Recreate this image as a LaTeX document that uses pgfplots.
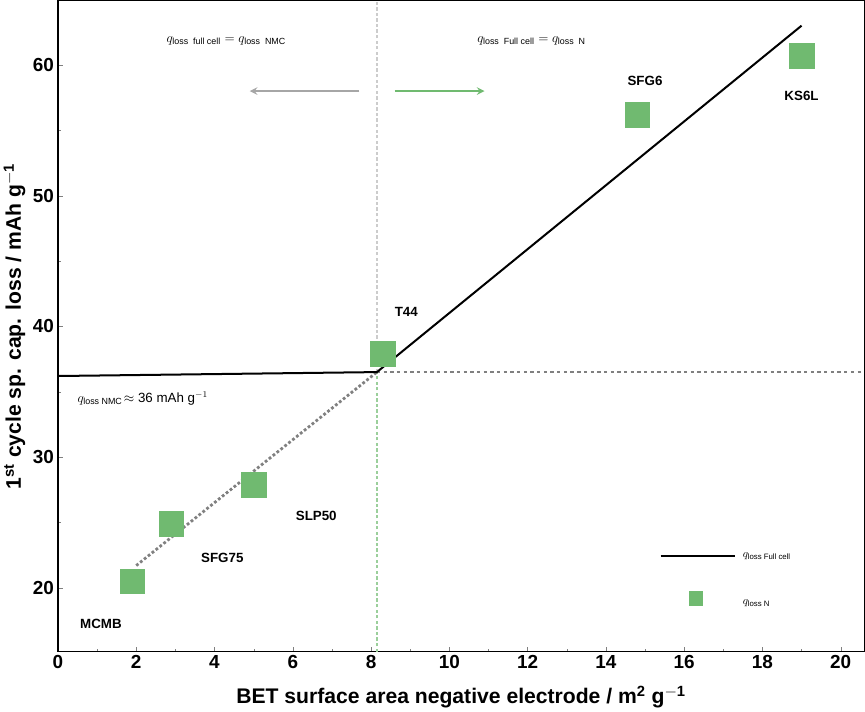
\documentclass[border=0pt]{standalone}
\usepackage{amsmath}
\usepackage{pgfplots}
\pgfplotsset{compat=1.18}
\usepackage{fontspec}
\setmainfont{Liberation Sans}
\definecolor{gsq}{RGB}{112,186,112}
\begin{document}
\begin{tikzpicture}
\begin{axis}[
  scale only axis, width=722bp, height=583bp,
  xmin=0, xmax=20.6, ymin=15.1, ymax=64.9,
  xtick={0,2,...,20}, ytick={20,30,40,50,60},
  tick label style={font=\bfseries\fontsize{17}{17}\selectfont},
  /pgf/number format/assume math mode=true,
  tick align=inside, tick pos=left, minor x tick num=1, minor y tick num=1,
  axis line style={line width=1pt},
  xlabel={\bfseries BET surface area negative electrode / m$^{\mathbf 2}$ g$^{\mathbf{-1}}$},
  ylabel={\bfseries 1$^{\text{st}}$ cycle sp. cap. loss / mAh g$^{\mathbf{-1}}$},
  label style={font=\bfseries\fontsize{19}{19}\selectfont},
  xlabel style={yshift=-8pt},
  clip=false,
]
\addplot[densely dashed, gray!40, line width=1.5pt] coordinates {(8.15,36.5) (8.15,64.9)};
\addplot[densely dashed, gsq!70, line width=1.5pt] coordinates {(8.15,15.1) (8.15,36.5)};
\addplot[dashed, gray, line width=1.5pt] coordinates {(8.15,36.5) (20.6,36.5)};
\addplot[dotted, gray, line width=2.5pt] coordinates {(2,21.7) (8.15,36.5)};
\addplot[black, line width=1.8pt] coordinates {(0,36.2) (8.15,36.5) (19,63)};
\addplot[only marks, mark=square*, mark size=11pt, gsq, mark options={draw=gsq}] coordinates {
 (1.9,20.5) (2.9,24.9) (5,27.9) (8.3,37.9) (14.8,56.2) (19,60.7)};
\node[font=\bfseries\large] at (axis cs:1.1,17.2) {MCMB};
\node[font=\bfseries\large] at (axis cs:4.2,22.3) {SFG75};
\node[font=\bfseries\large] at (axis cs:6.6,25.5) {SLP50};
\node[font=\bfseries\large] at (axis cs:8.9,41.1) {T44};
\node[font=\bfseries\large] at (axis cs:15,58.8) {SFG6};
\node[font=\bfseries\large] at (axis cs:19,57.6) {KS6L};
\node[font=\large, anchor=west] at (axis cs:0.4,34.5) {$q_{\text{loss NMC}}\!\approx$ 36 mAh g$^{-1}$};
\node[font=\large] at (axis cs:4.3,61.8) {$q_{\text{loss\ \ full cell}} = q_{\text{loss\ \ NMC}}$};
\node[font=\large] at (axis cs:12.1,61.8) {$q_{\text{loss\ \ Full cell}} = q_{\text{loss\ \ N}}$};
\draw[-stealth, gray!70, line width=2pt] (axis cs:7.7,58) -- (axis cs:4.9,58);
\draw[-stealth, gsq, line width=2pt] (axis cs:8.6,58) -- (axis cs:10.9,58);
\draw[black, line width=1.8pt] (axis cs:15.4,22.4) -- (axis cs:17.3,22.4);
\node[anchor=west] at (axis cs:17.4,22.4) {$q_{\text{loss Full cell}}$};
\addplot[only marks, mark=square*, mark size=6pt, gsq] coordinates {(16.3,19.2)};
\node[anchor=west] at (axis cs:17.4,18.8) {$q_{\text{loss N}}$};
\end{axis}
\end{tikzpicture}
\end{document}
